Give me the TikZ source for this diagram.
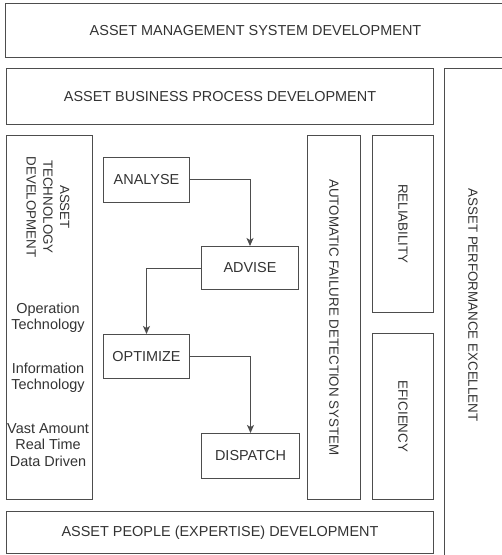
\documentclass[tikz,border=0pt]{standalone}
\usepackage{fontspec}
\setmainfont{Liberation Sans}
\usetikzlibrary{arrows.meta}
\definecolor{linec}{HTML}{4D4D4D}
\definecolor{txtc}{HTML}{333333}
\newcommand\dfs{\fontsize{14.5}{16.5}\selectfont}
\newcommand\vfs{\fontsize{13.4}{16.8}\selectfont}
\begin{document}
\begin{tikzpicture}[x=1bp,y=-1bp,
  box/.style={draw=linec, line width=1bp, inner sep=0pt, anchor=north west, text=txtc, font=\dfs, align=center},
  lbl/.style={inner sep=0pt, text=txtc, font=\dfs, align=center},
  vlbl/.style={inner sep=0pt, text=txtc, font=\vfs, align=center, rotate=-90},
  arr/.style={draw=linec, line width=1bp, -{Stealth[length=8bp,width=7bp,inset=2bp]}}]
\useasboundingbox (0,0) rectangle (502,555);
\clip (0,0) rectangle (502,555);
% outer frames
\node[box, minimum width=500bp, minimum height=54bp] (ams) at (5,3) {ASSET MANAGEMENT SYSTEM DEVELOPMENT};
\node[box, minimum width=427bp, minimum height=56bp] (abp) at (6,68) {ASSET BUSINESS PROCESS DEVELOPMENT};
\node[box, minimum width=59bp, minimum height=492bp] (ape) at (444,68) {};
\node[vlbl] (apet) at (473,305) {ASSET PERFORMANCE EXCELLENT};
\node[box, minimum width=86bp, minimum height=364bp] (atd) at (6,135) {};
\node[box, minimum width=427bp, minimum height=42bp] (apd) at (6,511) {ASSET PEOPLE (EXPERTISE) DEVELOPMENT};
% technology texts
\node[vlbl] (atdt) at (48,207) {ASSET\\TECHNOLOGY\\DEVELOPMENT};
\node[lbl] (ot) at (48,318) {Operation\\Technology};
\node[lbl] (it) at (48,378) {Information\\Technology};
\node[lbl] (vad) at (48,445) {Vast Amount\\Real Time\\Data Driven};
% right column boxes
\node[box, minimum width=53bp, minimum height=364bp] (afd) at (307,135) {};
\node[vlbl] (afdt) at (afd.center) {AUTOMATIC FAILURE DETECTION SYSTEM};
\node[box, minimum width=61bp, minimum height=177bp] (rel) at (372,135) {};
\node[vlbl] (relt) at (rel.center) {RELIABILITY};
\node[box, minimum width=61bp, minimum height=166bp] (efi) at (372,333) {};
\node[vlbl] (efit) at (efi.center) {EFICIENCY};
% process boxes
\node[box, minimum width=86bp, minimum height=45bp] (ana) at (103,157) {ANALYSE};
\node[box, minimum width=97bp, minimum height=43bp] (adv) at (201,246) {ADVISE};
\node[box, minimum width=86bp, minimum height=44bp] (opt) at (103,334) {OPTIMIZE};
\node[box, minimum width=98bp, minimum height=45bp] (dis) at (201,433) {DISPATCH};
% connectors
\draw[arr] (ana.east) -| (adv.north);
\draw[arr] (adv.west) -| (opt.north);
\draw[arr] (opt.east) -| (dis.north);
\end{tikzpicture}
\end{document}
